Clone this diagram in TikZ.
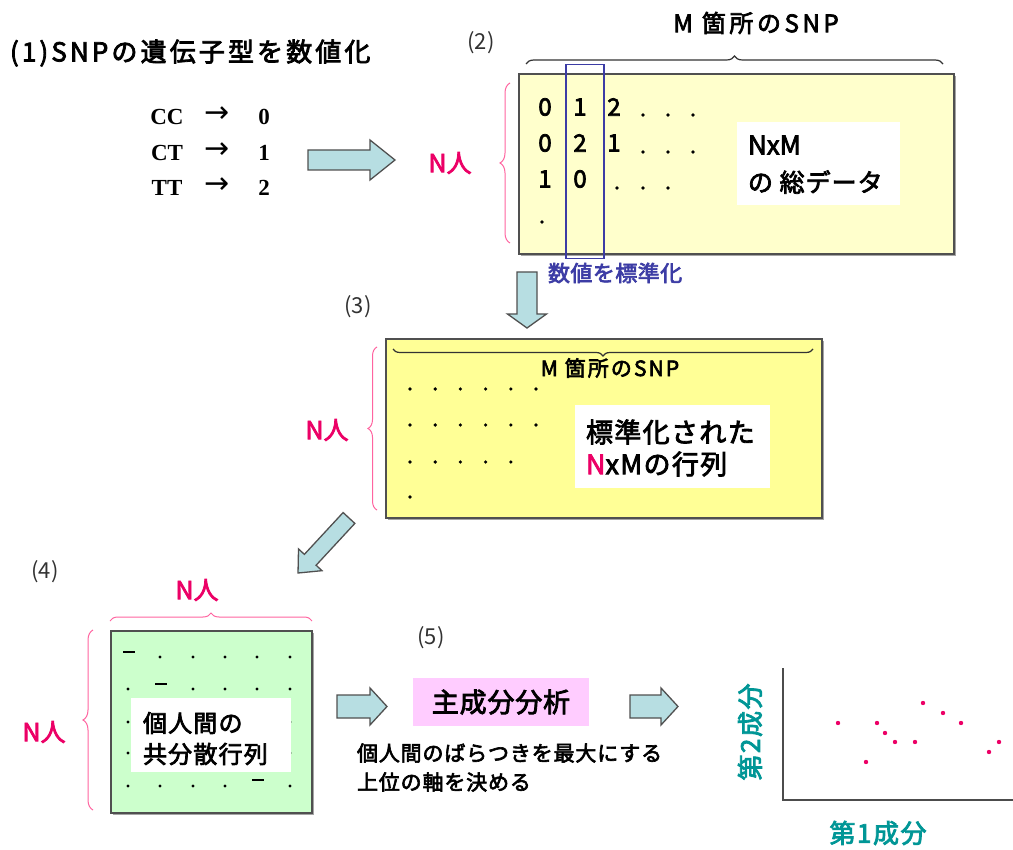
\documentclass[tikz,border=0pt]{standalone}
\usepackage{fontspec}
\setmainfont{Noto Sans CJK JP}
\newfontfamily\jpb{Noto Sans CJK JP}[FakeBold=3]
\newfontfamily\serb{Liberation Serif}
\newfontfamily\djv{DejaVu Sans}
\usetikzlibrary{decorations.pathreplacing,shadows}
\definecolor{pinkc}{RGB}{236,0,102}
\definecolor{bracepink}{RGB}{255,100,160}
\definecolor{arrfill}{RGB}{183,222,226}
\definecolor{ylwA}{RGB}{255,255,204}
\definecolor{ylwB}{RGB}{255,255,150}
\definecolor{grnA}{RGB}{204,255,204}
\definecolor{pinkbox}{RGB}{255,204,255}
\definecolor{tealc}{RGB}{0,150,150}
\definecolor{bluec}{RGB}{60,60,165}
\definecolor{framec}{RGB}{80,80,80}
\definecolor{grayt}{RGB}{50,50,50}
\newcommand{\blockarr}[7]{%
  \begin{scope}[shift={(#1,#2)},rotate=#3]
    \draw[barrow] ({-#4/2},{-#5}) -- ({#4/2-#7},{-#5}) -- ({#4/2-#7},{-#6})
      -- ({#4/2},0) -- ({#4/2-#7},{#6}) -- ({#4/2-#7},{#5}) -- ({-#4/2},{#5}) -- cycle;
  \end{scope}}
\newcommand{\ls}[1]{\addfontfeatures{LetterSpace=#1}}
\tikzset{
  barrow/.style={draw=framec, line width=1.3pt, fill=arrfill, line join=miter},
  txt/.style={inner sep=0pt, outer sep=0pt},
  bfont/.style={font=\jpb\fontsize{#1}{#1}\selectfont},
  pinklbl/.style={txt, text=pinkc, font=\jpb\fontsize{25}{25}\selectfont},
  stepno/.style={txt, text=grayt, font=\fontsize{22}{22}\selectfont},
  matbox/.style={draw=framec, line width=1.8pt, inner sep=0pt, anchor=north west,
     drop shadow={shadow xshift=2pt, shadow yshift=-2pt, fill=gray, opacity=0.7}},
  whitebox/.style={fill=white, inner sep=0pt, anchor=north west},
  pbrace/.style={draw=bracepink, line width=1pt, decorate, decoration={brace, amplitude=#1}},
  kbrace/.style={draw=black!80, line width=1.2pt, decorate, decoration={brace, amplitude=#1}},
  dig/.style={txt, font=\jpb\fontsize{24}{24}\selectfont},
  gen/.style={txt, font=\serb\bfseries\fontsize{23}{23}\selectfont},
  genarr/.style={txt, font=\djv\fontsize{30}{30}\selectfont},
}
\begin{document}
\begin{tikzpicture}[x=1pt,y=-1pt]
\useasboundingbox[fill=white] (0,0) rectangle (1013,850);

% ---------- (1)
\node[txt, anchor=west, bfont=26] (title) at (10,53)
  {\ls{12}(1)SNPの遺伝子型を数値化};
\node[gen] (cc) at (167,117) {CC};
\node[genarr] (a1) at (217,115) {→};
\node[gen] (v0) at (264,117) {0};
\node[gen] (ct) at (167,153) {CT};
\node[genarr] (a2) at (217,151) {→};
\node[gen] (v1) at (264,153) {1};
\node[gen] (tt) at (167,188) {TT};
\node[genarr] (a3) at (217,186) {→};
\node[gen] (v2) at (264,188) {2};
\blockarr{351.5}{160}{0}{87}{10}{20}{25}

% ---------- (2)
\node[stepno] (s2) at (481,43) {(2)};
\node[txt, bfont=24] (m2) at (756,23) {\ls{15}M 箇所のSNP};
\node[pinklbl] (n2) at (450,163) {N人};
\node[matbox, fill=ylwA, minimum width=435pt, minimum height=180pt] (b2) at (518,73) {};
\draw[kbrace=8pt] (526,64) -- (943,64);
\draw[pbrace=10pt] (510,243) -- (510,83);
\node[whitebox, minimum width=163pt, minimum height=83pt] (w2) at (737,122) {};
\node[txt, anchor=west, bfont=26] (w2a) at (748,145) {NxM};
\node[txt, anchor=west, bfont=25] (w2b) at (748,182) {\ls{4}の 総データ};
% matrix digits
\node[dig] (d11) at (545,107) {0};
\node[dig] (d12) at (580,107) {1};
\node[dig] (d13) at (614,107) {2};
\node[dig] (d21) at (545,143) {0};
\node[dig] (d22) at (580,143) {2};
\node[dig] (d23) at (614,143) {1};
\node[dig] (d31) at (545,179) {1};
\node[dig] (d32) at (580,179) {0};
\foreach \x in {643,668,693} {\fill (\x,115) circle (1.8pt); \fill (\x,152) circle (1.8pt);}
\foreach \x in {617,643,668} {\fill (\x,188) circle (1.8pt);}
\fill (542,222) circle (1.8pt);
\node[draw=bluec, line width=1.5pt, inner sep=0pt, anchor=north west,
      minimum width=38pt, minimum height=194pt] (col) at (565,64) {};
\node[txt, anchor=west, text=bluec, bfont=22] (std) at (548,273) {\ls{2}数値を標準化};
\blockarr{527}{300}{-90}{56}{10}{19.5}{14}

% ---------- (3)
\node[stepno] (s3) at (358,307) {(3)};
\node[pinklbl] (n3) at (327,430) {N人};
\node[matbox, fill=ylwB, minimum width=436pt, minimum height=179pt] (b3) at (385,338) {};
\draw[pbrace=9pt] (377,510) -- (377,347);
\draw[kbrace=7pt] (813,349) -- (393,349);
\node[txt, bfont=21] (m3) at (610,368) {\ls{10}M 箇所のSNP};
\foreach \y/\n in {389/6,425/6,462/5} {
  \foreach \i in {1,...,\n} {\fill ({410+25.2*(\i-1)},\y) circle (1.8pt);}
}
\fill (410,497) circle (1.8pt);
\node[whitebox, minimum width=195pt, minimum height=83pt] (w3) at (575,405) {};
\node[txt, anchor=west, bfont=27] (w3a) at (586,432) {\ls{5}標準化された};
\node[txt, anchor=west, bfont=27] (w3b) at (586,464) {\ls{5}\textcolor{pinkc}{N}xMの行列};
\blockarr{323.5}{545.5}{-132.8}{75}{8}{16}{18}

% ---------- (4)
\node[stepno] (s4) at (45,572) {(4)};
\node[pinklbl] (n4t) at (197,590) {N人};
\node[pinklbl] (n4l) at (44,732) {N人};
\draw[pbrace=8pt] (110,621) -- (312,621);
\draw[pbrace=10pt] (93,810) -- (93,630);
\node[matbox, fill=grnA, minimum width=201pt, minimum height=182pt] (b4) at (110,630) {};
\foreach \x in {160,193,225,257,290} {\fill (\x,657) circle (1.6pt);}
\foreach \x in {128,193,225,257,290} {\fill (\x,689) circle (1.6pt);}
\foreach \x in {128,160,193,225,290} {\fill (\x,786) circle (1.6pt);}
\foreach \y in {722,753} {\fill (128,\y) circle (1.6pt); \fill (290,\y) circle (1.6pt);}
\draw[line width=1.5pt] (123,652) -- (135,652);
\draw[line width=1.5pt] (155,684) -- (167,684);
\draw[line width=1.5pt] (252,780) -- (264,780);
\node[whitebox, minimum width=160pt, minimum height=74pt] (w4) at (131,698) {};
\node[txt, anchor=west, bfont=24] (w4a) at (143,723) {\ls{5}個人間の};
\node[txt, anchor=west, bfont=24] (w4b) at (143,754) {\ls{5}共分散行列};
\blockarr{362}{706.5}{0}{50}{11.5}{18.5}{17}

% ---------- (5)
\node[stepno] (s5) at (431,638) {(5)};
\node[fill=pinkbox, inner sep=0pt, minimum width=176pt, minimum height=48pt] (pca) at (501,702)
  {\jpb\fontsize{27}{27}\selectfont\ls{3}主成分分析};
\node[txt, anchor=west, bfont=21] (e1) at (357,753) {\ls{4}個人間のばらつきを最大にする};
\node[txt, anchor=west, bfont=21] (e2) at (357,782) {\ls{4}上位の軸を決める};
\blockarr{654}{706.5}{0}{48}{11.5}{18.5}{17}

% ---------- plot
\coordinate (ytop) at (783,668);
\coordinate (orig) at (783,800);
\coordinate (xend) at (1013,800);
\draw[line width=2pt, draw=black!70] (ytop) -- (orig) -- (xend);
\foreach \x/\y in {838/723,866/762,877/723,885/733,895/742,915/742,923/703,943/713,961/723,989/752,999/742}
  {\fill[pinkc] (\x,\y) circle (2.2pt);}
\node[txt, text=tealc, bfont=26, rotate=90] (pc2) at (750,732) {\ls{6}第2成分};
\node[txt, text=tealc, bfont=26] (pc1) at (878,833) {\ls{6}第1成分};
\end{tikzpicture}
\end{document}
